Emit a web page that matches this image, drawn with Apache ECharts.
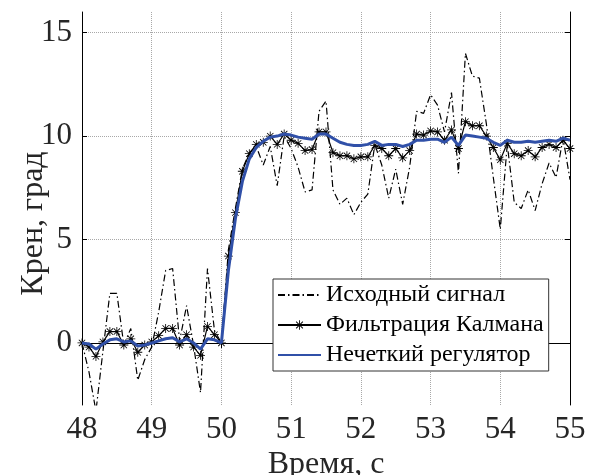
<!DOCTYPE html>
<html><head><meta charset="utf-8">
<script src="https://cdn.jsdelivr.net/npm/echarts@6/dist/echarts.min.js"></script>
<style>html,body{margin:0;padding:0;background:#fff}#c{width:591px;height:475px}</style>
</head><body><div id="c"></div>
<script>
const times = [48.0,48.1,48.2,48.3,48.4,48.5,48.6,48.7,48.8,48.9,
  49.0,49.1,49.2,49.3,49.4,49.5,49.6,49.7,49.8,49.9,
  50.0,50.1,50.2,50.3,50.4,50.5,50.6,50.7,50.8,50.9,
  51.0,51.1,51.2,51.3,51.4,51.5,51.6,51.7,51.8,51.9,
  52.0,52.1,52.2,52.3,52.4,52.5,52.6,52.7,52.8,52.9,
  53.0,53.1,53.2,53.3,53.4,53.5,53.6,53.7,53.8,53.9,
  54.0,54.1,54.2,54.3,54.4,54.5,54.6,54.7,54.8,54.9,55.0];
const rawSignal = [0.0,-1.4,-3.3,-0.4,2.4,2.4,-0.1,0.7,-1.8,-0.8,
  -0.2,1.5,3.5,3.6,0.1,1.8,-0.1,-2.4,3.6,0.6,
  0.0,4.5,6.5,8.4,9.2,9.5,8.6,9.5,7.6,10.0,
  9.4,8.5,7.3,7.4,11.2,11.7,7.4,6.7,7.0,6.2,
  6.8,7.2,9.6,8.6,7.0,8.4,6.7,8.5,11.2,11.1,
  12.0,11.5,10.2,12.1,8.2,14.0,12.9,12.8,10.6,8.0,
  5.5,9.6,6.8,6.5,7.4,6.4,7.7,8.7,8.0,9.9,7.9];
const kalman = [0.0,-0.2,-0.65,0.05,0.55,0.55,-0.1,0.2,-0.45,-0.1,
  0.05,0.35,0.7,0.7,-0.1,0.4,-0.2,-0.6,0.8,0.4,
  0.0,4.2,6.3,8.3,9.15,9.6,9.7,10.0,9.6,10.1,
  9.8,9.65,9.3,9.35,10.2,10.2,9.2,9.05,9.05,8.9,
  9.0,9.0,9.55,9.4,9.05,9.4,8.95,9.3,10.1,10.05,
  10.25,10.2,9.8,10.3,9.4,10.7,10.5,10.5,10.0,9.45,
  8.85,9.65,9.15,9.05,9.3,9.0,9.45,9.6,9.45,9.8,9.4];
const fuzzy = [0.0,-0.05,-0.3,-0.05,0.15,0.2,0.05,0.1,-0.15,-0.1,
  0.0,0.1,0.2,0.25,0.05,0.2,0.0,-0.3,0.2,0.15,
  0.0,3.5,6.0,7.8,8.9,9.45,9.75,9.95,10.0,10.1,
  10.05,9.95,9.9,9.85,10.1,10.1,9.9,9.7,9.6,9.55,
  9.55,9.6,9.75,9.55,9.6,9.6,9.5,9.6,9.8,9.8,
  9.85,9.85,9.7,9.95,9.55,10.05,10.0,9.95,9.9,9.7,
  9.55,9.8,9.7,9.7,9.75,9.7,9.75,9.8,9.75,9.9,9.8];
const xTicks = [48,49,50,51,52,53,54,55];
const yTicks = [0,5,10,15];
const seriesNames = ['Исходный сигнал','Фильтрация Калмана','Нечеткий регулятор'];
const xName = 'Время, с';
const yName = 'Крен, град';

const FONT = '"Liberation Serif", "Times New Roman", serif';
const asterisk = 'path://M-1,-0.09L1,-0.09L1,0.09L-1,0.09Z M-0.09,-1L0.09,-1L0.09,1L-0.09,1Z M-0.77,-0.64L-0.64,-0.77L0.77,0.64L0.64,0.77Z M-0.64,0.77L-0.77,0.64L0.64,-0.77L0.77,-0.64Z';
const pair = arr => times.map((t, i) => [t, arr[i]]);
const gridLine = {show: true, lineStyle: {type: 'dotted', color: '#a8a8a8', width: 1}};
const hiddenSymbol = {color: 'rgba(0,0,0,0)', borderColor: 'rgba(0,0,0,0)', borderWidth: 0};

const chart = echarts.init(document.getElementById('c'), null, {renderer: 'canvas'});
chart.setOption({
  animation: false,
  backgroundColor: '#fff',
  grid: {left: 82, right: 21, top: 12, bottom: 70, containLabel: false, outerBoundsMode: 'none'},
  legend: {
    orient: 'vertical', left: 273, top: 279,
    backgroundColor: '#fff', borderColor: '#333', borderWidth: 1, borderRadius: 0,
    padding: [4, 5, 4, 4], itemGap: 6, itemWidth: 43, itemHeight: 12,
    textStyle: {fontFamily: FONT, fontSize: 24, color: '#000', lineHeight: 22},
    data: [
      {name: seriesNames[0], itemStyle: hiddenSymbol},
      {name: seriesNames[1]},
      {name: seriesNames[2], itemStyle: hiddenSymbol}
    ]
  },
  xAxis: [{
    type: 'value', min: 48, max: 55, interval: 1,
    name: xName, nameLocation: 'middle', nameGap: 44, nameMoveOverlap: false,
    nameTextStyle: {fontFamily: FONT, fontSize: 32, color: '#262626'},
    axisLine: {lineStyle: {color: '#000', width: 1}},
    axisTick: {inside: true, length: 5, lineStyle: {color: '#000'}},
    axisLabel: {fontFamily: FONT, fontSize: 31, color: '#262626', margin: 9},
    splitLine: gridLine
  }, {
    type: 'value', min: 48, max: 55, interval: 1, position: 'top',
    axisLine: {lineStyle: {color: '#000', width: 1}},
    axisTick: {inside: true, length: 5, lineStyle: {color: '#000'}},
    axisLabel: {show: false}, splitLine: {show: false}
  }],
  yAxis: [{
    type: 'value', min: -3, max: 16,
    name: yName, nameLocation: 'middle', nameGap: 32, nameRotate: 90, nameMoveOverlap: false,
    nameTextStyle: {fontFamily: FONT, fontSize: 32, color: '#262626', padding: [0, 30, 0, 0]},
    axisLine: {show: true, lineStyle: {color: '#000', width: 1}},
    axisTick: {show: true, inside: true, length: 5, customValues: yTicks, lineStyle: {color: '#000'}},
    axisLabel: {fontFamily: FONT, fontSize: 31, color: '#262626', margin: 10, customValues: yTicks},
    splitLine: gridLine
  }, {
    type: 'value', min: -3, max: 16, position: 'right',
    axisLine: {show: true, lineStyle: {color: '#000', width: 1}},
    axisTick: {show: true, inside: true, length: 5, customValues: yTicks, lineStyle: {color: '#000'}},
    axisLabel: {show: false}, splitLine: {show: false}
  }],
  series: [{
    name: seriesNames[0], type: 'line', data: pair(rawSignal),
    showSymbol: false, symbol: 'none', z: 2,
    lineStyle: {color: '#000', width: 1.2, type: [7, 3, 1.5, 3]},
    itemStyle: {color: '#000'}
  }, {
    name: seriesNames[1], type: 'line', data: pair(kalman),
    symbol: asterisk, symbolSize: 9, showSymbol: true, z: 3,
    lineStyle: {color: '#000', width: 1.2},
    itemStyle: {color: '#000', borderWidth: 0}
  }, {
    name: seriesNames[2], type: 'line', data: pair(fuzzy),
    showSymbol: false, symbol: 'none', z: 4,
    lineStyle: {color: '#3050a8', width: 3},
    itemStyle: {color: '#3050a8'}
  }]
});
</script>
</body></html>
